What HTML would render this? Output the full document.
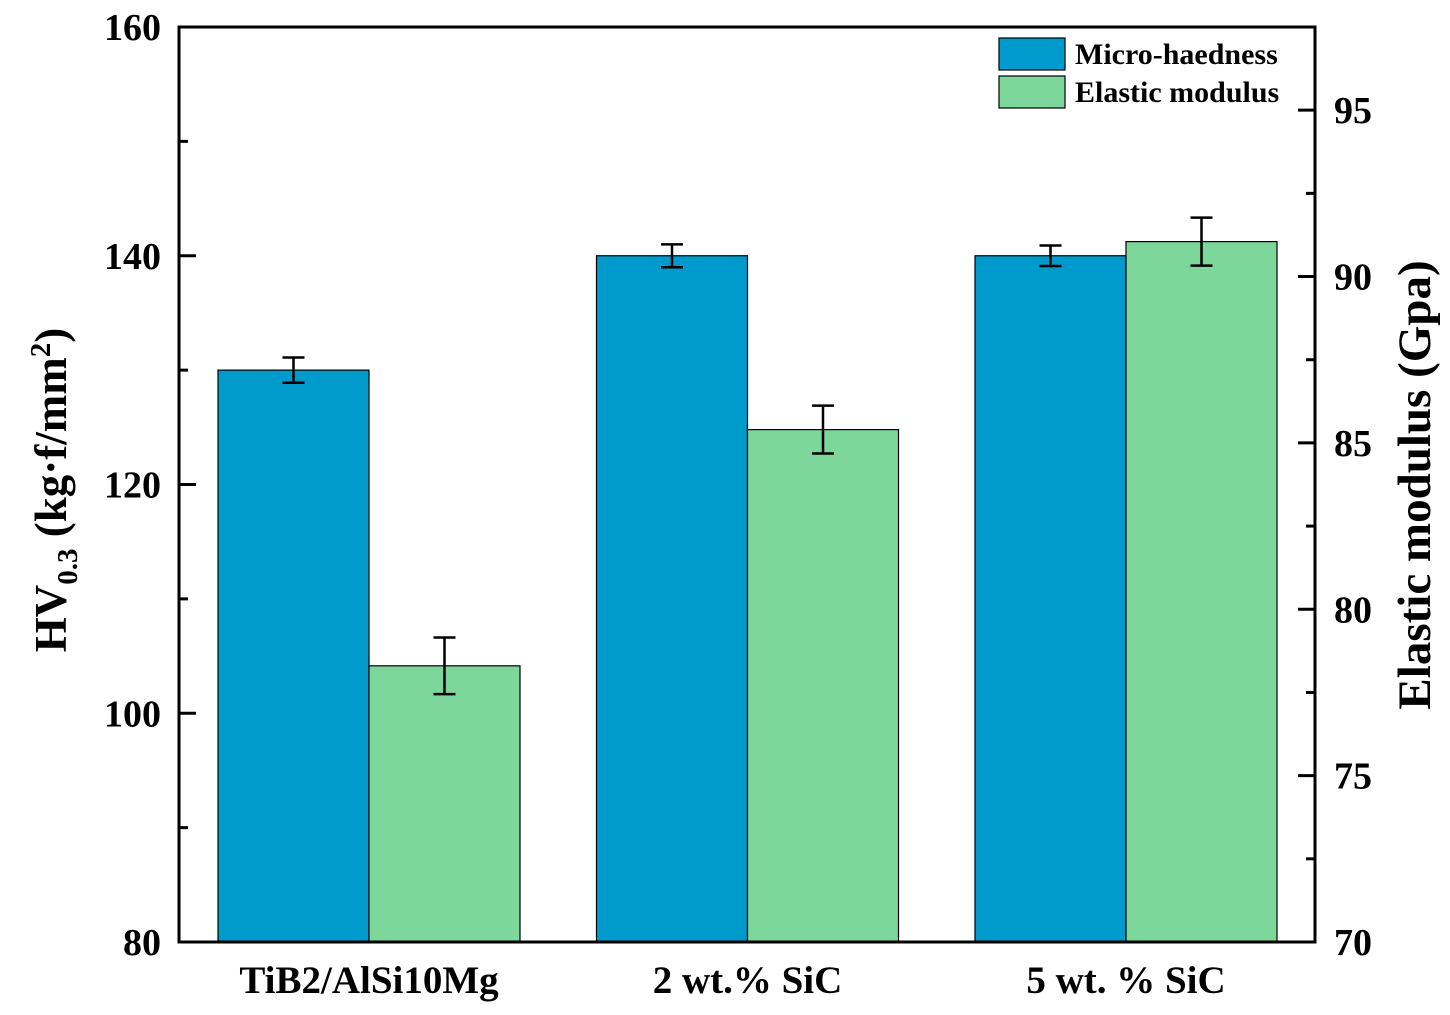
<!DOCTYPE html>
<html><head><meta charset="utf-8"><style>
html,body{margin:0;padding:0;background:#fff;}
svg text{font-family:"Liberation Serif",serif;font-weight:bold;fill:#000;}
</style></head><body>
<svg width="1450" height="1010" viewBox="0 0 1450 1010">
<g id="marks"></g>
<g id="axes"></g>
<g>
  <rect x="999" y="38" width="66" height="32" fill="#009ACD" stroke="#000" stroke-width="1.2"/>
  <text x="1075" y="64" font-size="30">Micro-haedness</text>
  <rect x="999" y="76" width="66" height="32" fill="#7DD69A" stroke="#000" stroke-width="1.2"/>
  <text x="1075" y="102" font-size="30">Elastic modulus</text>
</g>
<text transform="translate(66,490) rotate(-90)" text-anchor="middle" font-size="45">HV<tspan font-size="29" dy="11">0.3</tspan><tspan dy="-11"> (kg·f/mm</tspan><tspan font-size="29" dy="-16">2</tspan><tspan dy="16">)</tspan></text>
<text transform="translate(1430,485) rotate(-90)" text-anchor="middle" font-size="47">Elastic modulus (Gpa)</text>
<script>
const categories=["TiB2/AlSi10Mg","2 wt.% SiC","5 wt. % SiC"];
const hardness=[130,140,140];
const hardnessErr=[1.1,1.0,0.9];
const modulus=[78.3,85.4,91.05];
const modulusErr=[0.85,0.72,0.72];
const leftTicks=[80,100,120,140,160];
const rightTicks=[70,75,80,85,90,95];
const L=179,R=1315,T=27,B=942;
const yL=v=>B-(v-80)/80*(B-T);
const yR=v=>B-(v-70)/27.5*(B-T);
const groupX=i=>218+i*378.5;
const bw=151;
const NS="http://www.w3.org/2000/svg";
const marks=document.getElementById('marks'),axes=document.getElementById('axes');
function mk(tag,attrs,parent){const e=document.createElementNS(NS,tag);for(const k in attrs)e.setAttribute(k,attrs[k]);parent.appendChild(e);return e;}
function err(x,y1,y2,p){
  const g=mk('g',{stroke:'#000','stroke-width':2.5},p);
  mk('line',{x1:x,x2:x,y1:y1,y2:y2},g);
  mk('line',{x1:x-11,x2:x+11,y1:y1,y2:y1},g);
  mk('line',{x1:x-11,x2:x+11,y1:y2,y2:y2},g);
  return g;
}
categories.forEach((c,i)=>{
  const x=groupX(i);
  let r=mk('rect',{x:x,y:yL(hardness[i]),width:bw,height:B-yL(hardness[i]),fill:'#009ACD',stroke:'#000','stroke-width':1.2},marks);
  
  
  let e=err(x+bw/2,yL(hardness[i]+hardnessErr[i]),yL(hardness[i]-hardnessErr[i]),marks);
  
  
  let r2=mk('rect',{x:x+bw,y:yR(modulus[i]),width:bw,height:B-yR(modulus[i]),fill:'#7DD69A',stroke:'#000','stroke-width':1.2},marks);
  
  
  let e2=err(x+bw*1.5,yR(modulus[i]+modulusErr[i]),yR(modulus[i]-modulusErr[i]),marks);
  
  
  let t=mk('text',{x:x+bw,y:993,'text-anchor':'middle','font-size':39},axes);
  t.textContent=c;
  
  
});
let frame=mk('rect',{x:L,y:T,width:R-L,height:B-T,fill:'none',stroke:'#000','stroke-width':3},axes);


leftTicks.forEach(v=>{
  mk('line',{x1:L,x2:L+17,y1:yL(v),y2:yL(v),stroke:'#000','stroke-width':3},axes);
  if(v<160)mk('line',{x1:L,x2:L+9,y1:yL(v+10),y2:yL(v+10),stroke:'#000','stroke-width':3},axes);
  let t=mk('text',{x:161,y:yL(v)+13,'text-anchor':'end','font-size':38},axes);
  t.textContent=v;
  
  
});
rightTicks.forEach(v=>{
  mk('line',{x1:R-17,x2:R,y1:yR(v),y2:yR(v),stroke:'#000','stroke-width':3},axes);
  if(v+2.5<97.5)mk('line',{x1:R-9,x2:R,y1:yR(v+2.5),y2:yR(v+2.5),stroke:'#000','stroke-width':3},axes);
  let t=mk('text',{x:1334,y:yR(v)+13,'text-anchor':'start','font-size':38},axes);
  t.textContent=v;
  
  
});
</script>
</svg>
</body></html>
